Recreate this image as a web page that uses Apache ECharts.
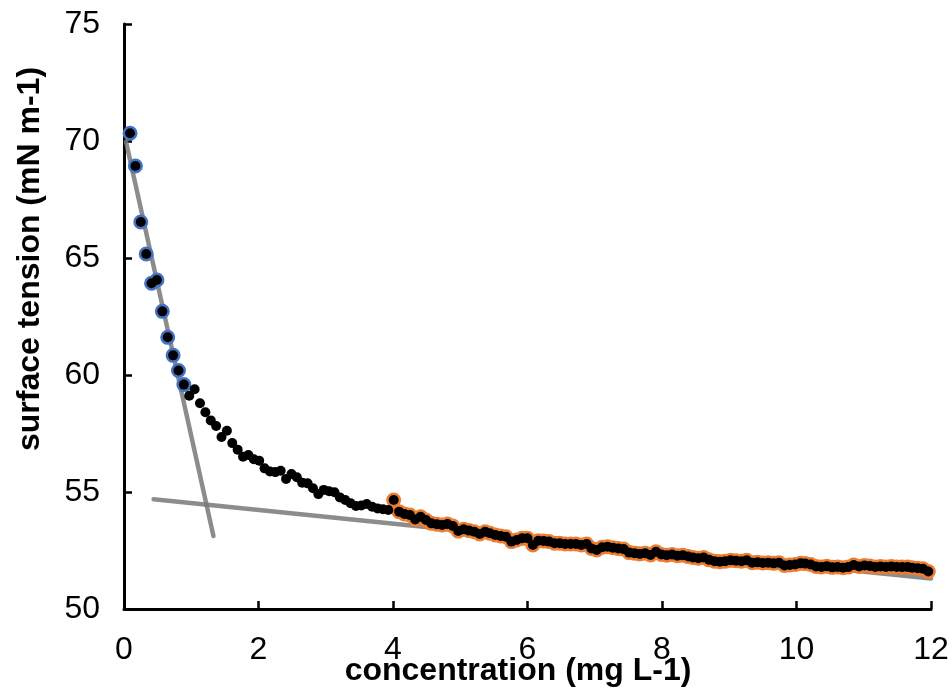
<!DOCTYPE html>
<html>
<head>
<meta charset="utf-8">
<script src="https://cdn.jsdelivr.net/npm/echarts@6/dist/echarts.min.js"></script>
<style>
html,body{margin:0;padding:0;background:#fff;}
#chart{width:952px;height:689px;}
</style>
</head>
<body>
<div id="chart"></div>
<script>
// concentration (mg L-1)
const concentration = [
 0.09,0.17,0.25,0.33,0.41,0.49,0.57,0.65,0.73,0.81,
 0.89,0.97,1.05,1.13,1.21,1.29,1.37,1.45,1.53,1.61,
 1.69,1.77,1.85,1.93,2.01,2.09,2.17,2.25,2.33,2.41,
 2.49,2.57,2.65,2.73,2.81,2.89,2.97,3.05,3.13,3.21,
 3.29,3.37,3.45,3.53,3.61,3.69,3.77,3.85,3.93,4.01,
 4.09,4.17,4.25,4.33,4.41,4.49,4.57,4.65,4.73,4.81,
 4.89,4.97,5.05,5.13,5.21,5.29,5.37,5.44,5.52,5.60,
 5.68,5.76,5.84,5.92,6.00,6.08,6.16,6.24,6.32,6.40,
 6.48,6.56,6.64,6.72,6.80,6.88,6.95,7.03,7.11,7.19,
 7.27,7.35,7.43,7.51,7.59,7.67,7.75,7.83,7.91,7.99,
 8.07,8.15,8.23,8.31,8.39,8.46,8.54,8.62,8.70,8.78,
 8.86,8.94,9.02,9.10,9.18,9.26,9.34,9.42,9.50,9.58,
 9.66,9.74,9.82,9.90,9.98,10.06,10.13,10.21,10.29,10.37,
 10.45,10.53,10.61,10.69,10.77,10.85,10.93,11.01,11.09,11.17,
 11.25,11.33,11.41,11.49,11.57,11.65,11.72,11.80,11.88,11.96
];
// surface tension (mN m-1)
const surfaceTension = [
 70.33,68.93,66.54,65.17,63.92,64.06,62.72,61.61,60.84,60.19,
 59.59,59.11,59.39,58.79,58.41,58.06,57.82,57.35,57.62,57.09,
 56.81,56.51,56.58,56.40,56.34,56.01,55.88,55.85,55.91,55.56,
 55.77,55.63,55.40,55.37,55.16,54.91,55.09,55.03,54.99,54.77,
 54.66,54.52,54.40,54.42,54.49,54.37,54.30,54.26,54.23,54.66,
 54.16,54.06,54.02,53.83,53.94,53.80,53.66,53.62,53.59,53.63,
 53.55,53.33,53.41,53.35,53.30,53.21,53.30,53.24,53.16,53.12,
 53.09,52.88,52.95,53.02,53.02,52.74,52.92,52.91,52.88,52.81,
 52.81,52.78,52.78,52.78,52.74,52.78,52.59,52.52,52.64,52.66,
 52.62,52.59,52.56,52.41,52.38,52.35,52.38,52.31,52.45,52.33,
 52.30,52.33,52.28,52.30,52.24,52.20,52.17,52.20,52.10,52.04,
 52.02,52.04,52.08,52.06,52.04,52.08,51.98,52.00,51.97,51.98,
 51.95,51.98,51.86,51.88,51.90,51.95,51.94,51.90,51.82,51.80,
 51.83,51.78,51.80,51.76,51.79,51.88,51.82,51.86,51.84,51.80,
 51.82,51.80,51.82,51.80,51.79,51.80,51.76,51.74,51.72,51.60
];
// index ranges of highlighted points
const blueRange = [0, 10];
const orangeRange = [49, 149];
// fitted trend lines (x, y endpoints)
const steepLineX = [0.03, 1.33];
const steepLineY = [69.97, 53.12];
const flatLineX = [0.44, 12.0];
const flatLineY = [54.69, 51.30];

const xTicks = [0, 2, 4, 6, 8, 10, 12];
const yTicks = [50, 55, 60, 65, 70, 75];

const allPts = concentration.map((x, i) => [x, surfaceTension[i]]);
const bluePts = allPts.slice(blueRange[0], blueRange[1] + 1);
const orangePts = allPts.slice(orangeRange[0], orangeRange[1] + 1);
const steepPts = steepLineX.map((x, i) => [x, steepLineY[i]]);
const flatPts = flatLineX.map((x, i) => [x, flatLineY[i]]);

const FONT = '"Liberation Sans", Arial, sans-serif';
const chart = echarts.init(document.getElementById('chart'), null, {renderer: 'canvas'});
const axisCommon = {
  axisLine: {show: true, onZero: false, lineStyle: {color: '#000', width: 3}},
  axisTick: {show: true, inside: true, length: 8, lineStyle: {color: '#000', width: 2.5}},
  splitLine: {show: false},
  axisLabel: {color: '#000', fontSize: 32, fontFamily: FONT}
};
chart.setOption({
  animation: false,
  backgroundColor: '#fff',
  grid: {left: 124, right: 21, top: 24, bottom: 80, containLabel: false},
  xAxis: Object.assign({}, axisCommon, {
    type: 'value', min: xTicks[0], max: xTicks[xTicks.length - 1], interval: 2,
    axisLabel: Object.assign({}, axisCommon.axisLabel, {margin: 25, showMaxLabel: true, showMinLabel: true})
  }),
  yAxis: Object.assign({}, axisCommon, {
    type: 'value', min: yTicks[0], max: yTicks[yTicks.length - 1], interval: 5,
    axisLabel: Object.assign({}, axisCommon.axisLabel, {margin: 24})
  }),
  graphic: [
    {type: 'text', x: 518, y: 671, style: {text: 'concentration (mg L-1)', font: 'bold 32px ' + FONT, fill: '#000', textAlign: 'center', textVerticalAlign: 'middle'}},
    {type: 'text', rotation: Math.PI / 2, x: 30, y: 259, style: {text: 'surface tension (mN m-1)', font: 'bold 32px ' + FONT, fill: '#000', textAlign: 'center', textVerticalAlign: 'middle'}}
  ],
  series: [
    {type: 'line', data: steepPts, showSymbol: false, silent: true, z: 1,
     lineStyle: {color: 'rgba(120,120,120,0.85)', width: 4.5, cap: 'round'}},
    {type: 'line', data: flatPts, showSymbol: false, silent: true, z: 1,
     lineStyle: {color: 'rgba(120,120,120,0.85)', width: 4.5, cap: 'round'}},
    {type: 'scatter', data: bluePts, symbol: 'circle', symbolSize: 12, z: 2,
     itemStyle: {color: '#fff', borderColor: '#4472C4', borderWidth: 3, opacity: 1}},
    {type: 'scatter', data: orangePts, symbol: 'circle', symbolSize: 12, z: 2,
     itemStyle: {color: '#fff', borderColor: '#ED7D31', borderWidth: 3, opacity: 1}},
    {type: 'scatter', data: allPts, symbol: 'circle', symbolSize: 10, z: 3,
     itemStyle: {color: '#000', opacity: 1}}
  ]
});
</script>
</body>
</html>
